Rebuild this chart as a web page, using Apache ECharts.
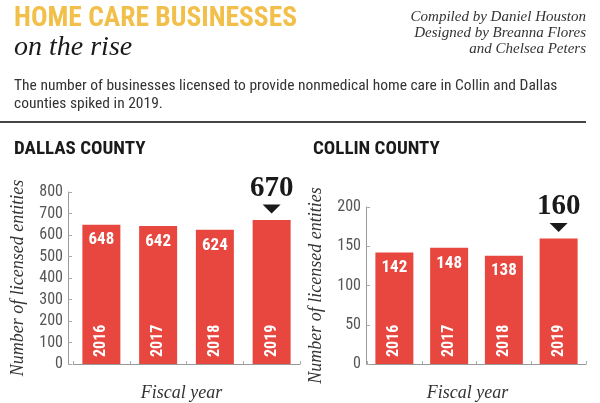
<!DOCTYPE html>
<html>
<head>
<meta charset="utf-8">
<script src="https://cdn.jsdelivr.net/npm/echarts@6/dist/echarts.min.js"></script>
<style>
  html, body { margin: 0; padding: 0; background: #fff; }
  #chart { width: 600px; height: 403px; }
</style>
</head>
<body>
<div id="chart"></div>
<script>
// data
var years = ['2016', '2017', '2018', '2019'];
var dallasValues = [648, 642, 624, 670];
var collinValues = [142, 148, 138, 160];
var dallasTicks = [0, 800, 100];   // min, max, interval
var collinTicks = [0, 200, 50];
var credits = ['Compiled by Daniel Houston', 'Designed by Breanna Flores', 'and Chelsea Peters'];

var RED = '#e8473f';
var GOLD = '#f2c04a';
var NARROW = "'Liberation Sans Narrow', 'Roboto Condensed', Roboto, sans-serif";
var SERIF = "'Liberation Serif', 'DejaVu Serif', serif";

// the last bar gets the big number above it instead of inside
function barData(values) {
    return values.map(function (v, i) {
        if (i !== values.length - 1) return v;
        return {
            value: v,
            label: {
                position: 'top',
                distance: 17,
                color: '#1a1a1a',
                fontFamily: SERIF,
                fontWeight: 'bold',
                fontSize: 29
            }
        };
    });
}

function makeSeries(idx, values) {
    var last = values.length - 1;
    return [{
        type: 'bar',
        xAxisIndex: idx,
        yAxisIndex: idx,
        barWidth: 38,
        data: barData(values),
        itemStyle: { color: RED },
        label: {
            show: true,
            position: 'insideTop',
            distance: 7,
            color: '#fff',
            fontFamily: NARROW,
            fontWeight: 'bold',
            fontSize: 17
        },
        markPoint: {
            symbol: 'triangle',
            symbolRotate: 180,
            symbolSize: [18, 9],
            symbolOffset: [0, -11],
            label: { show: false },
            itemStyle: { color: '#1a1a1a' },
            data: [{ coord: [last, values[last]] }]
        }
    }, {
        // year labels written up the bottom of each bar
        type: 'bar',
        xAxisIndex: idx,
        yAxisIndex: idx,
        barWidth: 38,
        barGap: '-100%',
        silent: true,
        data: values,
        itemStyle: { color: 'rgba(0,0,0,0)' },
        label: {
            show: true,
            position: 'insideBottom',
            rotate: 90,
            align: 'left',
            verticalAlign: 'middle',
            distance: 7,
            color: '#fff',
            fontFamily: NARROW,
            fontWeight: 'bold',
            fontSize: 16,
            formatter: function (p) { return years[p.dataIndex]; }
        }
    }];
}

function xAxisOf(idx, shift) {
    return {
        type: 'category',
        gridIndex: idx,
        data: years,
        name: 'Fiscal year',
        nameLocation: 'middle',
        nameGap: 20,
        nameTextStyle: {
            fontFamily: SERIF, fontStyle: 'italic', fontSize: 18, color: '#333',
            padding: [0, shift, 0, 0]
        },
        axisLine: { lineStyle: { color: '#999' } },
        axisTick: { show: true, inside: true, length: 3, lineStyle: { color: '#aaa' } },
        axisLabel: { show: false }
    };
}

function yAxisOf(idx, ticks) {
    return {
        type: 'value',
        gridIndex: idx,
        min: ticks[0],
        max: ticks[1],
        interval: ticks[2],
        offset: idx === 0 ? 5 : 1,
        name: 'Number of licensed entities',
        nameLocation: 'middle',
        nameRotate: 90,
        nameGap: 41,
        nameTextStyle: { fontFamily: SERIF, fontStyle: 'italic', fontSize: 18, color: '#333' },
        axisLine: { show: true, lineStyle: { color: '#999' } },
        axisTick: { show: true, inside: true, length: 4, lineStyle: { color: '#aaa' } },
        axisLabel: { color: '#555', fontFamily: NARROW, fontSize: 16, margin: 5 },
        splitLine: { show: false }
    };
}

var graphics = [
    { type: 'text', left: 14, top: 5,
      style: { text: 'HOME CARE BUSINESSES', fill: GOLD, font: "bold 27.5px " + NARROW } },
    { type: 'text', left: 14, top: 34,
      style: { text: 'on the rise', fill: '#1a1a1a', font: "italic 28px " + SERIF } },
    { type: 'text', left: 14, top: 77,
      style: {
          text: 'The number of businesses licensed to provide nonmedical home care in Collin and Dallas\ncounties spiked in 2019.',
          fill: '#333', font: "15.5px " + NARROW, lineHeight: 18
      } },
    { type: 'rect', left: 0, top: 121, shape: { width: 586, height: 2 }, style: { fill: '#444' } },
    { type: 'text', left: 14, top: 140,
      style: { text: 'DALLAS COUNTY', fill: '#1a1a1a', font: "bold 19px " + NARROW } },
    { type: 'text', left: 313, top: 140,
      style: { text: 'COLLIN COUNTY', fill: '#1a1a1a', font: "bold 19px " + NARROW } }
];
credits.forEach(function (line, i) {
    graphics.push({ type: 'text', right: 14, top: 10 + i * 16,
        style: { text: line, fill: '#333', font: "italic 15px " + SERIF } });
});

var option = {
    backgroundColor: '#fff',
    animation: false,
    grid: [
        { left: 73, top: 192, width: 227, height: 175 },
        { left: 367, top: 207, width: 219, height: 160 }
    ],
    xAxis: [xAxisOf(0, 10), xAxisOf(1, 18)],
    yAxis: [yAxisOf(0, dallasTicks), yAxisOf(1, collinTicks)],
    series: makeSeries(0, dallasValues).concat(makeSeries(1, collinValues)),
    graphic: graphics
};

var chart = echarts.init(document.getElementById('chart'));
chart.setOption(option);
</script>
</body>
</html>
